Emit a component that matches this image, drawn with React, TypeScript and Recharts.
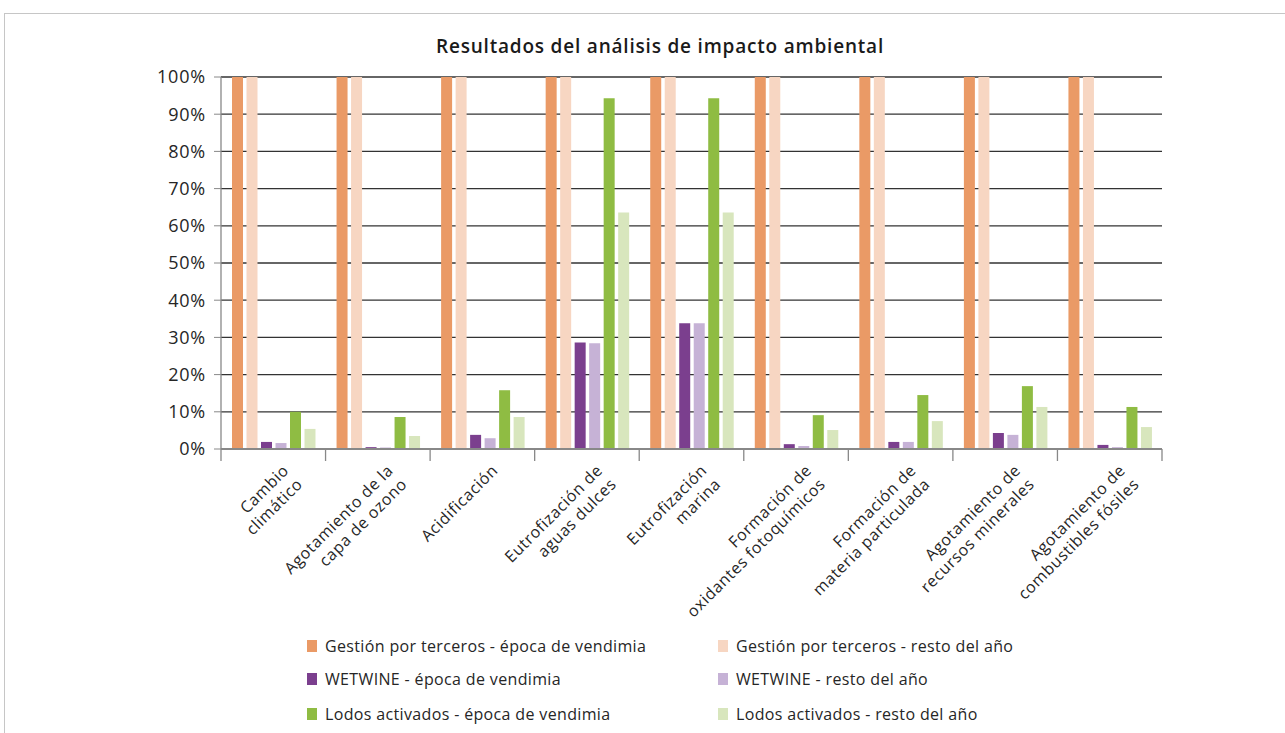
import React from 'react';
import { BarChart, Bar, XAxis, YAxis, CartesianGrid } from 'recharts';

const title = 'Resultados del análisis de impacto ambiental';

const categories = [
  'Cambio\nclimático',
  'Agotamiento de la\ncapa de ozono',
  'Acidificación',
  'Eutrofización de\naguas dulces',
  'Eutrofización\nmarina',
  'Formación de\noxidantes fotoquímicos',
  'Formación de\nmateria particulada',
  'Agotamiento de\nrecursos minerales',
  'Agotamiento de\ncombustibles fósiles',
];

const seriesNames = [
  'Gestión por terceros - época de vendimia',
  'Gestión por terceros - resto del año',
  'WETWINE - época de vendimia',
  'WETWINE - resto del año',
  'Lodos activados - época de vendimia',
  'Lodos activados - resto del año',
];

const seriesColors = ['#EA9A66', '#F7D6C2', '#7B3F8E', '#C6B2D6', '#8FBC43', '#D8E6BD'];

const terceroVendimia = [100, 100, 100, 100, 100, 100, 100, 100, 100];
const terceroResto = [100, 100, 100, 100, 100, 100, 100, 100, 100];
const wetwineVendimia = [1.9, 0.5, 3.8, 28.6, 33.8, 1.3, 1.9, 4.3, 1.1];
const wetwineResto = [1.6, 0.4, 2.9, 28.4, 33.8, 0.8, 1.9, 3.8, 0.5];
const lodosVendimia = [10.0, 8.6, 15.8, 94.3, 94.3, 9.1, 14.5, 16.9, 11.3];
const lodosResto = [5.4, 3.5, 8.6, 63.6, 63.6, 5.1, 7.5, 11.3, 5.9];

const yTicks = [0, 10, 20, 30, 40, 50, 60, 70, 80, 90, 100];

const seriesValues = [terceroVendimia, terceroResto, wetwineVendimia, wetwineResto, lodosVendimia, lodosResto];
const keys = ['s0', 's1', 's2', 's3', 's4', 's5'];

const data = categories.map((c, i) => {
  const row: any = { name: c };
  keys.forEach((k, j) => (row[k] = seriesValues[j][i]));
  return row;
});

const FONT_FAMILY = '"Open Sans", "DejaVu Sans", sans-serif';
const TEXT_COLOR = '#262626';

const XTick = (props: any) => {
  const { x, y, payload, index, width } = props;
  const half = payload && payload.offset ? payload.offset : width / (2 * categories.length);
  const lines = String(payload.value).split('\n');
  const lh = 19.5;
  const px = x + 8;
  const py = y + 14;
  return (
    <g>
      <line x1={x - half} x2={x - half} y1={y} y2={y + 12} stroke="#888" strokeWidth={1.3} />
      {index === categories.length - 1 && (
        <line x1={x + half} x2={x + half} y1={y} y2={y + 12} stroke="#888" strokeWidth={1.3} />
      )}
      <g transform={`translate(${px},${py}) rotate(-45)`}>
        <text
          textAnchor="end"
          fontSize={16}
          letterSpacing={0.6}
          fill={TEXT_COLOR}
          fontFamily={FONT_FAMILY}
        >
          {lines.map((l, i) => (
            <tspan key={i} x={0} y={12 + i * lh}>
              {l}
            </tspan>
          ))}
        </text>
      </g>
    </g>
  );
};

const legendCols = [307, 718];
const legendRows = [646, 679, 714];

export default function App() {
  return (
    <div
      style={{
        position: 'absolute',
        left: 0,
        top: 0,
        width: 1285,
        height: 733,
        overflow: 'hidden',
        background: '#fff',
        fontFamily: FONT_FAMILY,
      }}
    >
      <div
        style={{
          position: 'absolute',
          left: 4,
          top: 13,
          width: 1320,
          height: 760,
          borderTop: '1px solid #c6c6c6',
          borderLeft: '1px solid #c6c6c6',
        }}
      />
      <div
        style={{
          position: 'absolute',
          left: 310,
          width: 700,
          top: 33,
          textAlign: 'center',
          fontSize: 19,
          fontWeight: 600,
          letterSpacing: 0.8,
          color: '#1a1a1a',
        }}
      >
        {title}
      </div>
      <div style={{ position: 'absolute', left: 0, top: 0 }}>
        <BarChart
          width={1285}
          height={733}
          data={data}
          margin={{ top: 77, right: 123, left: 0, bottom: 0 }}
          barSize={11}
          barGap={3.5}
        >
          <CartesianGrid vertical={false} stroke="#333" strokeWidth={1.3} />
          <XAxis
            dataKey="name"
            height={284}
            interval={0}
            tickLine={false}
            tickSize={0}
            tickMargin={0}
            axisLine={{ stroke: '#888', strokeWidth: 2 }}
            tick={<XTick />}
          />
          <YAxis
            width={221}
            domain={[0, 100]}
            ticks={yTicks}
            interval={0}
            tickFormatter={(v: number) => `${v}%`}
            tick={{ fontSize: 18, fill: TEXT_COLOR, fontFamily: FONT_FAMILY, letterSpacing: 0.8 } as any}
            tickSize={7}
            tickMargin={8}
            tickLine={{ stroke: '#888' }}
            axisLine={{ stroke: '#888', strokeWidth: 1.3 }}
          />
          <YAxis
            yAxisId="right"
            orientation="right"
            width={0}
            domain={[0, 100]}
            tick={false}
            tickLine={false}
            axisLine={{ stroke: '#888', strokeWidth: 2 }}
          />
          {keys.map((k, j) => (
            <Bar key={k} dataKey={k} name={seriesNames[j]} fill={seriesColors[j]} isAnimationActive={false} />
          ))}
        </BarChart>
      </div>
      {seriesNames.map((n, j) => {
        const col = j % 2;
        const row = Math.floor(j / 2);
        return (
          <div
            key={n}
            style={{
              position: 'absolute',
              left: legendCols[col],
              top: legendRows[row] - 10,
              height: 20,
              display: 'flex',
              alignItems: 'center',
              fontSize: 16,
              letterSpacing: 0.35,
              color: TEXT_COLOR,
              whiteSpace: 'nowrap',
            }}
          >
            <span
              style={{
                display: 'inline-block',
                width: 10,
                height: 12,
                background: seriesColors[j],
                marginRight: 8,
              }}
            />
            {n}
          </div>
        );
      })}
    </div>
  );
}
